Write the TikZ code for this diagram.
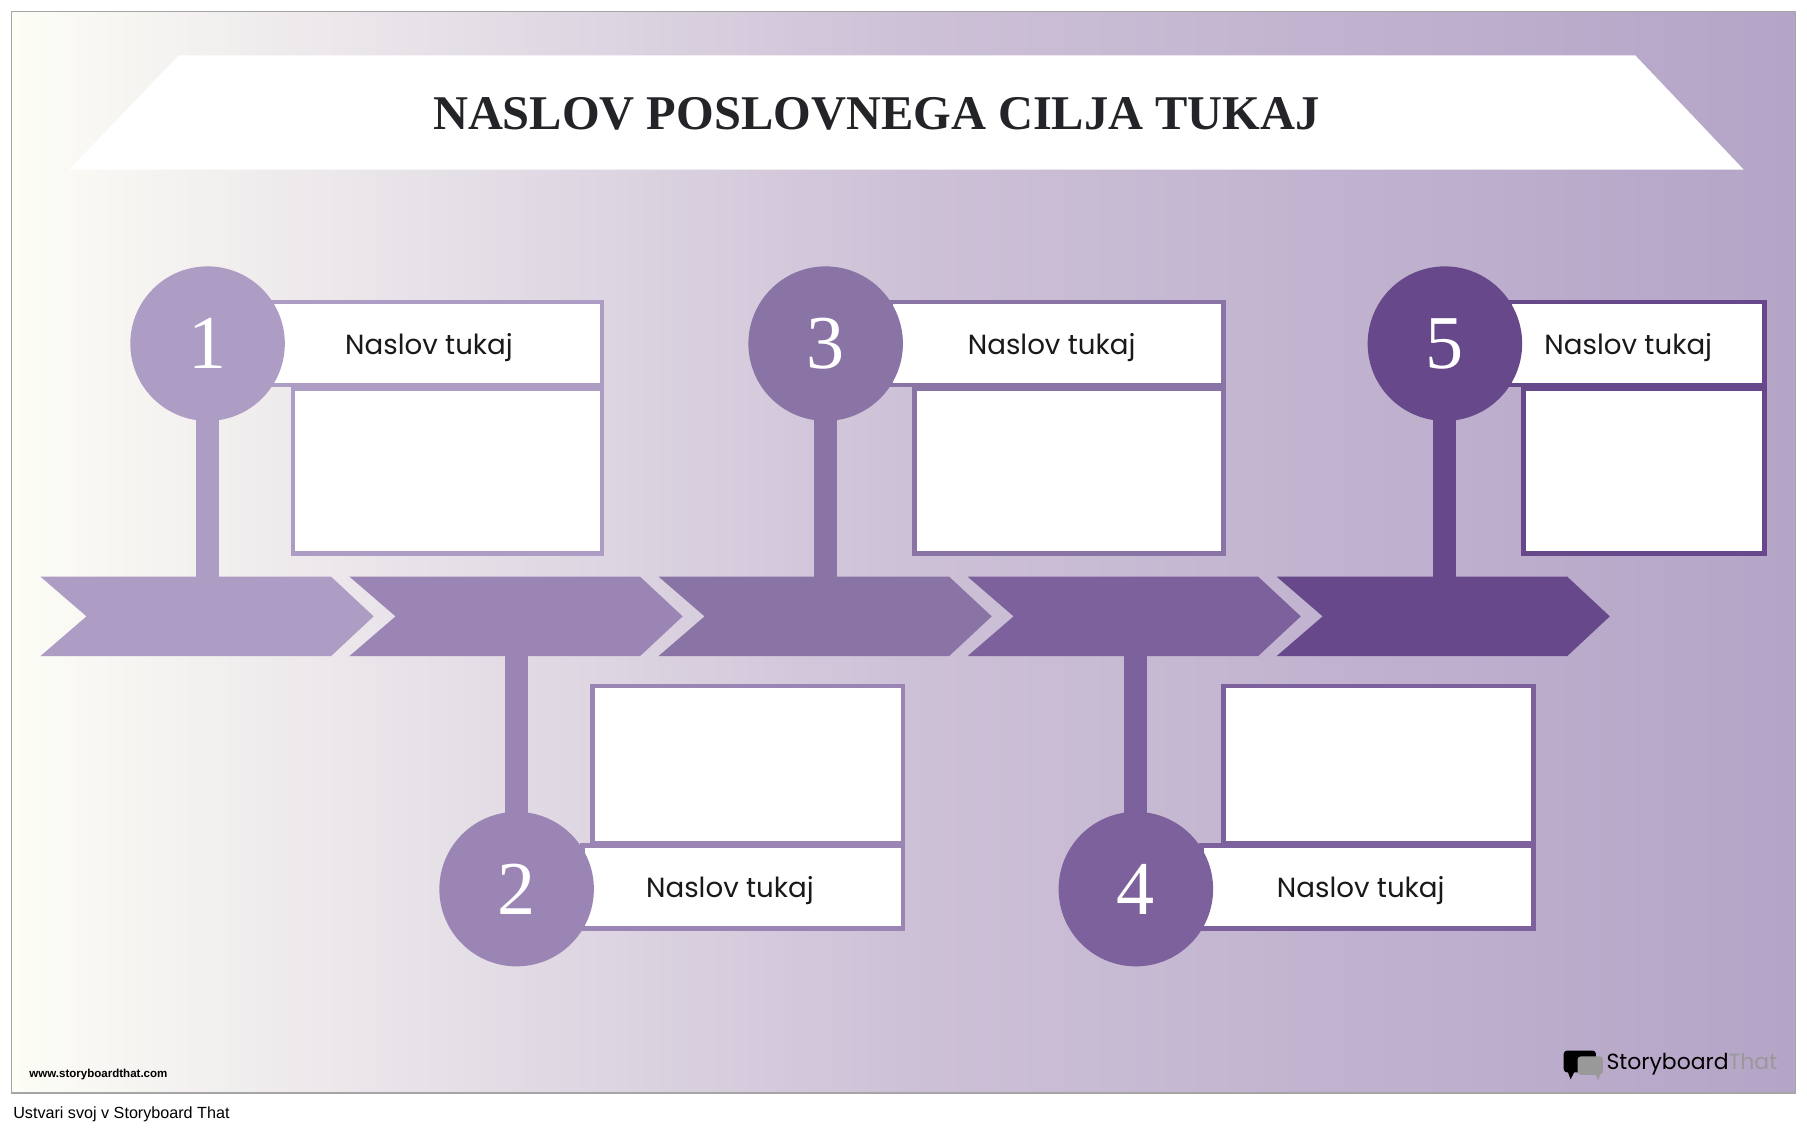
\documentclass[tikz,border=0pt]{standalone}
\usepackage{fontspec}
\setmainfont{Liberation Serif}
\newfontfamily\boxfont{Poppins}
\newfontfamily\smallfont{Liberation Sans}
\usetikzlibrary{calc}
\definecolor{cA}{HTML}{AD9CC3}
\definecolor{cB}{HTML}{9B85B5}
\definecolor{cC}{HTML}{8A74A5}
\definecolor{cD}{HTML}{7D619C}
\definecolor{cE}{HTML}{67498B}
\definecolor{bgL}{HTML}{FDFDF6}
\definecolor{bgR}{HTML}{B4A4C7}
\definecolor{logogray}{HTML}{999999}
\tikzset{
  num/.style={circle,minimum size=134pt,inner sep=0pt,text=white,font=\fontsize{66}{66}\selectfont},
  tbox/.style={draw=#1,line width=4pt,fill=white,inner sep=0pt},
  lbl/.style={font=\boxfont\fontsize{24}{24}\selectfont,text=black!90},
  stem/.style={line width=20pt}
}
\begin{document}
\begin{tikzpicture}[x=1pt,y=-1pt]
\useasboundingbox (0,0) rectangle (1567,982);
\fill[white] (0,0) rectangle (1567,982);
\shade[left color=bgL,right color=bgR,middle color={rgb,255:red,205;green,193;blue,215}] (10,10) rectangle (1557,948);
\draw[gray!70,line width=1.5pt] (10,10) rectangle (1557,948);
% title
\fill[white] (155,48) -- (1418,48) -- (1512,147) -- (60,147) -- cycle;
\node (title) at (760,99) {\bfseries\fontsize{42}{42}\selectfont\color[HTML]{222428}NASLOV POSLOVNEGA CILJA TUKAJ};
% stems
\draw[stem,cA] (180,298) -- (180,505);
\draw[stem,cC] (716,298) -- (716,505);
\draw[stem,cE] (1253,298) -- (1253,505);
\draw[stem,cB] (448,565) -- (448,771);
\draw[stem,cD] (985,565) -- (985,771);
% chevrons
\foreach \i/\c in {0/cA,1/cB,2/cC,3/cD,4/cE}{
  \pgfmathsetmacro{\xo}{35+268*\i}
  \fill[\c] (\xo,500) -- ({\xo+252},500) -- ({\xo+289},534.5) -- ({\xo+252},569) -- (\xo,569) -- ({\xo+40},534.5) -- cycle;
}
% boxes
\node[tbox=cA,minimum width=268pt,minimum height=143pt] (c1) at (388,408.5) {};
\node[tbox=cA,minimum width=287pt,minimum height=72pt] (t1) at (378.5,298) {};
\node[lbl] at (372,301) {Naslov tukaj};
\node[tbox=cC,minimum width=268pt,minimum height=143pt] (c3) at (927,408.5) {};
\node[tbox=cC,minimum width=289pt,minimum height=72pt] (t3) at (916.5,298) {};
\node[lbl] at (912,301) {Naslov tukaj};
\node[tbox=cE,minimum width=209pt,minimum height=143pt] (c5) at (1425.5,408.5) {};
\node[tbox=cE,minimum width=221pt,minimum height=72pt] (t5) at (1419.5,298) {};
\node[lbl] at (1412,301) {Naslov tukaj};
\node[tbox=cB,minimum width=269pt,minimum height=136pt] (c2) at (648.5,663) {};
\node[tbox=cB,minimum width=278pt,minimum height=72pt] (t2) at (644,769) {};
\node[lbl] at (633,772) {Naslov tukaj};
\node[tbox=cD,minimum width=269pt,minimum height=136pt] (c4) at (1195.5,663) {};
\node[tbox=cD,minimum width=288pt,minimum height=72pt] (t4) at (1186,769) {};
\node[lbl] at (1180,772) {Naslov tukaj};
% circles
\node[num,fill=cA] (n1) at (180,298) {1};
\node[num,fill=cC] (n3) at (716,298) {3};
\node[num,fill=cE] (n5) at (1253,298) {5};
\node[num,fill=cB] (n2) at (448,771) {2};
\node[num,fill=cD] (n4) at (985,771) {4};
% footer
\node[anchor=west,font=\smallfont\bfseries\fontsize{10}{10}\selectfont] (www) at (22,932) {www.storyboardthat.com};
\node[anchor=west,font=\smallfont\fontsize{14}{14}\selectfont] (ust) at (8,966) {Ustvari svoj v Storyboard That};
\fill[black,rounded corners=3pt] (1356,911) rectangle (1384,930);
\fill[black] (1359,928) -- (1362,936) -- (1366,928) -- cycle;
\fill[logogray,rounded corners=3pt] (1368,916) rectangle (1390,932);
\fill[logogray] (1383,930) -- (1386,937) -- (1388,930) -- cycle;
\node[anchor=west,inner sep=0pt,font=\boxfont\fontsize{19}{19}\selectfont] (logo) at (1393,923) {Storyboard\textcolor{logogray}{That}};
\end{tikzpicture}
\end{document}
